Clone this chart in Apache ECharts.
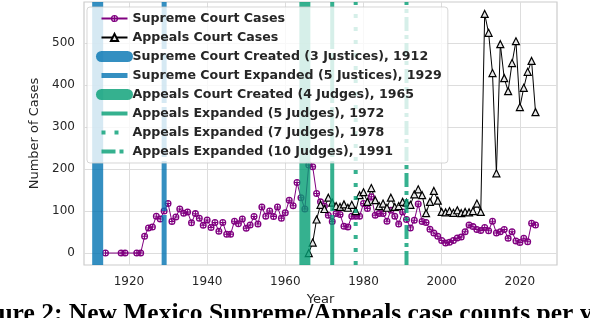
<!DOCTYPE html>
<html>
<head>
<meta charset="utf-8">
<script src="https://cdn.jsdelivr.net/npm/echarts@6/dist/echarts.min.js"></script>
<style>
html,body{margin:0;padding:0;background:#fff;}
#chart{width:590px;height:318px;}
</style>
</head>
<body>
<div id="chart"></div>
<script>
// ---- data ----
const supremeYears = [1914,1918,1919,1922,1923,1924,1925,1926,1927,1928,1929,1930,1931,1932,1933,1934,1935,1936,1937,1938,1939,1940,1941,1942,1943,1944,1945,1946,1947,1948,1949,1950,1951,1952,1953,1954,1955,1956,1957,1958,1959,1960,1961,1962,1963,1964,1965,1966,1967,1968,1969,1970,1971,1972,1973,1974,1975,1976,1977,1978,1979,1980,1981,1982,1983,1984,1985,1986,1987,1988,1989,1990,1991,1992,1993,1994,1995,1996,1997,1998,1999,2000,2001,2002,2003,2004,2005,2006,2007,2008,2009,2010,2011,2012,2013,2014,2015,2016,2017,2018,2019,2020,2021,2022,2023,2024];
const supremeCases = [0,0,0,0,0,40,60,62,88,81,100,118,75,86,105,95,98,72,94,83,66,79,61,73,52,73,45,45,76,70,81,59,67,87,69,110,88,100,87,110,83,96,126,113,168,132,105,210,206,142,122,112,90,75,94,92,64,62,88,88,88,118,106,134,90,94,94,76,102,88,69,98,80,60,78,117,75,73,57,48,40,30,24,26,30,36,38,51,67,63,56,54,61,53,76,48,51,56,35,51,29,25,35,27,71,67];
const appealsYears = [1966,1967,1968,1969,1970,1971,1972,1973,1974,1975,1976,1977,1978,1979,1980,1981,1982,1983,1984,1985,1986,1987,1988,1989,1990,1991,1992,1993,1994,1995,1996,1997,1998,1999,2000,2001,2002,2003,2004,2005,2006,2007,2008,2009,2010,2011,2012,2013,2014,2015,2016,2017,2018,2019,2020,2021,2022,2023,2024];
const appealsCases = [0,25,80,115,105,132,120,112,110,116,108,115,100,138,145,122,155,126,112,118,108,132,110,112,122,120,115,140,152,138,95,122,148,125,98,97,100,96,102,95,98,97,100,118,98,570,525,429,190,498,417,386,453,505,348,394,432,458,336];
const eventNames = ['Supreme Court Created (3 Justices), 1912','Supreme Court Expanded (5 Justices), 1929','Appeals Court Created (4 Judges), 1965','Appeals Expanded (5 Judges), 1972','Appeals Expanded (7 Judges), 1978','Appeals Expanded (10 Judges), 1991'];
const eventYears = [1912,1929,1965,1972,1978,1991];
const xTicks = [1920,1940,1960,1980,2000,2020];
const yTicks = [0,100,200,300,400,500];

// ---- styles ----
const BLUE = 'rgba(1,115,178,0.8)', GREEN = 'rgba(2,158,115,0.8)';
const eventStyles = [
  {color: BLUE, width: 11, type: 'solid', cap: 'round'},
  {color: BLUE, width: 5, type: [50, 4], cap: 'butt'},
  {color: GREEN, width: 11, type: 'solid', cap: 'round'},
  {color: GREEN, width: 4, type: [50, 4], cap: 'butt'},
  {color: GREEN, width: 4, type: [4, 9], cap: 'butt'},
  {color: GREEN, width: 4, type: [14, 4, 4, 4], cap: 'butt'}
];
const X_MIN = 1908.5, X_MAX = 2029.5, Y_MIN = -28.5, Y_MAX = 598.5;
const TXT = '#262626';
const FONT = 'DejaVu Sans';
const plusCircle = 'path://M5,0 A5,5 0 1,1 4.999,0 Z M5,1.8 A3.2,3.2 0 1,0 5.001,1.8 Z M4.3,0.5 H5.7 V9.5 H4.3 Z M0.5,4.3 H9.5 V5.7 H0.5 Z';

const series = [
  {
    name: 'Supreme Court Cases', type: 'line', z: 2,
    data: supremeYears.map((y, i) => [y, supremeCases[i]]),
    symbol: plusCircle, symbolSize: 7,
    lineStyle: {color: '#800080', width: 1},
    itemStyle: {color: '#800080'}
  },
  {
    name: 'Appeals Court Cases', type: 'line', z: 2,
    data: appealsYears.map((y, i) => [y, appealsCases[i]]),
    symbol: 'triangle', symbolSize: 7,
    lineStyle: {color: '#000', width: 1},
    itemStyle: {color: '#e8e8e8', borderColor: '#000', borderWidth: 1.2}
  }
];
eventYears.forEach((yr, i) => {
  const s = eventStyles[i];
  series.push({
    name: eventNames[i], type: 'line', z: 3,
    data: [[yr, Y_MIN], [yr, Y_MAX]],
    symbol: 'none', silent: true,
    lineStyle: {color: s.color, width: s.width, type: s.type, cap: 'butt'},
    itemStyle: {color: s.color}
  });
});

const legendData = [
  {name: 'Supreme Court Cases'},
  {name: 'Appeals Court Cases'}
].concat(eventNames.map((n, i) => ({
  name: n,
  itemStyle: {color: 'rgba(0,0,0,0)', borderWidth: 0, opacity: 0},
  lineStyle: {color: eventStyles[i].color, width: eventStyles[i].width, type: eventStyles[i].type, cap: eventStyles[i].cap}
})));

const chart = echarts.init(document.getElementById('chart'), null, {renderer: 'canvas'});
chart.setOption({
  animation: false,
  backgroundColor: '#fff',
  textStyle: {fontFamily: FONT},
  grid: {left: 84, right: 33, top: 2, bottom: 53, show: true, borderColor: '#cccccc', borderWidth: 1.2, backgroundColor: 'transparent'},
  legend: {
    orient: 'vertical', left: 87, top: 7,
    padding: [5, 6, 5, 9],
    itemWidth: 26, itemHeight: 9, itemGap: 6,
    selectedMode: false,
    backgroundColor: 'rgba(255,255,255,0.8)',
    borderColor: 'rgba(204,204,204,0.8)', borderWidth: 1, borderRadius: 3,
    textStyle: {fontFamily: FONT, fontSize: 12.6, lineHeight: 12, fontWeight: 'bold', color: TXT},
    data: legendData
  },
  xAxis: {
    type: 'value', min: X_MIN, max: X_MAX,
    name: 'Year', nameLocation: 'middle', nameGap: 28,
    nameTextStyle: {fontFamily: FONT, fontSize: 13, color: TXT},
    axisLine: {show: false},
    axisTick: {show: false, customValues: xTicks},
    axisLabel: {customValues: xTicks, fontFamily: FONT, fontSize: 12, color: TXT, margin: 11, formatter: v => String(v)},
    splitLine: {show: true, lineStyle: {color: '#dddddd', width: 1}}
  },
  yAxis: {
    type: 'value', min: Y_MIN, max: Y_MAX,
    name: 'Number of Cases', nameLocation: 'middle', nameGap: 29,
    nameTextStyle: {fontFamily: FONT, fontSize: 13, color: TXT},
    axisLine: {show: false},
    axisTick: {show: false, customValues: yTicks},
    axisLabel: {customValues: yTicks, fontFamily: FONT, fontSize: 12, color: TXT, margin: 9},
    splitLine: {show: true, lineStyle: {color: '#dddddd', width: 1}}
  },
  graphic: [{
    type: 'text', left: -37, top: 301, silent: true,
    style: {text: 'Figure 2: New Mexico Supreme/Appeals case counts per year', font: 'bold 25.5px "Liberation Serif"', fill: '#000'}
  }],
  series: series
});
</script>
</body>
</html>
